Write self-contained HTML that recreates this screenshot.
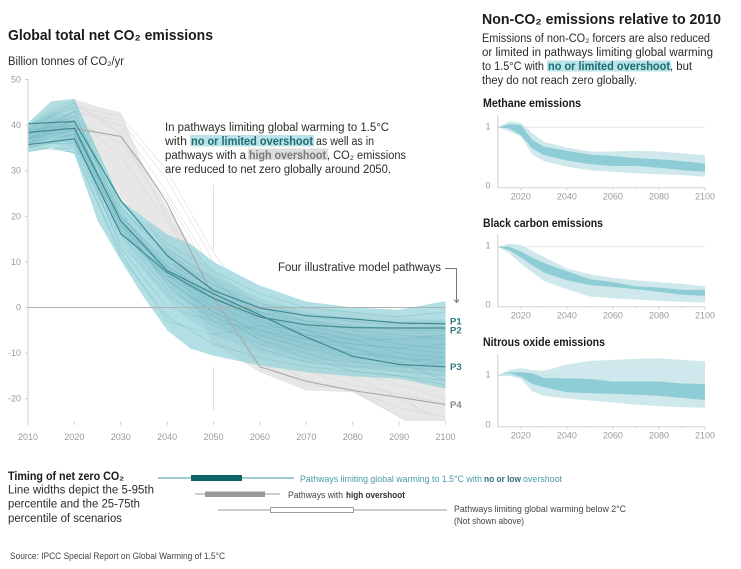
<!DOCTYPE html>
<html lang="en">
<head>
<meta charset="utf-8">
<title>Global total net CO2 emissions</title>
<style>
html,body{margin:0;padding:0;background:#fff;}
svg{display:block;font-family:"Liberation Sans",sans-serif;}
.h{font-weight:700;fill:#1a1a1a;}
.b{fill:#2b2b2b;font-size:11.5px;}
.s{fill:#444;font-size:9.5px;}
.t{fill:#9a9a9a;font-size:9px;}
</style>
</head>
<body>
<svg id="chart" xmlns="http://www.w3.org/2000/svg" width="741" height="569" viewBox="0 0 741 569">
  <defs><clipPath id="mainClip"><rect x="28" y="79" width="418" height="342"/></clipPath></defs>

  <text class="h" x="8" y="40" font-size="15" textLength="205" lengthAdjust="spacingAndGlyphs">Global total net CO₂ emissions</text>
  <text class="b" x="8" y="65" font-size="12" textLength="116" lengthAdjust="spacingAndGlyphs">Billion tonnes of CO₂/yr</text>

  <g id="mainMarks"></g>
  <g id="mainAxes"></g>

  <g>
    <rect x="190" y="135" width="124" height="11.5" fill="#bbe3e7"/>
    <rect x="248" y="148.5" width="80" height="11.5" fill="#dedede"/>
    <text class="b" x="165" y="131" textLength="224" lengthAdjust="spacingAndGlyphs">In pathways limiting global warming to 1.5°C</text>
    <text class="b" x="165" y="145" textLength="22" lengthAdjust="spacingAndGlyphs">with</text>
    <text class="b" x="191" y="145" textLength="122" lengthAdjust="spacingAndGlyphs" font-weight="700" style="fill:#1b6c72">no or limited overshoot</text>
    <text class="b" x="316" y="145" textLength="58" lengthAdjust="spacingAndGlyphs">as well as in</text>
    <text class="b" x="165" y="159" textLength="81" lengthAdjust="spacingAndGlyphs">pathways with a</text>
    <text class="b" x="249" y="159" textLength="77" lengthAdjust="spacingAndGlyphs" font-weight="700" style="fill:#777">high overshoot</text>
    <text class="b" x="327" y="159" textLength="79" lengthAdjust="spacingAndGlyphs">, CO₂ emissions</text>
    <text class="b" x="165" y="173" textLength="226" lengthAdjust="spacingAndGlyphs">are reduced to net zero globally around 2050.</text>
  </g>

  <g>
    <text class="b" x="278" y="271" textLength="163" lengthAdjust="spacingAndGlyphs">Four illustrative model pathways</text>
    <path d="M445 268.5H456.5V302M454 299.5L456.5 302.5L459 299.5" fill="none" stroke="#777" stroke-width="1"/>
  </g>
  <g font-size="9.5" font-weight="700">
    <text x="450" y="324.5" fill="#2c7c83">P1</text>
    <text x="450" y="333.5" fill="#2c7c83">P2</text>
    <text x="450" y="370" fill="#2c7c83">P3</text>
    <text x="450" y="408" fill="#888">P4</text>
  </g>

  <g>
    <text class="h" x="8" y="480" font-size="11.5" textLength="116" lengthAdjust="spacingAndGlyphs">Timing of net zero CO₂</text>
    <text class="b" x="8" y="493.5" textLength="146" lengthAdjust="spacingAndGlyphs">Line widths depict the 5-95th</text>
    <text class="b" x="8" y="507.5" textLength="132" lengthAdjust="spacingAndGlyphs">percentile and the 25-75th</text>
    <text class="b" x="8" y="522" textLength="114" lengthAdjust="spacingAndGlyphs">percentile of scenarios</text>

    <line x1="158" y1="478" x2="294" y2="478" stroke="#3f9aa0" stroke-width="1"/>
    <rect x="191" y="475" width="51" height="6" fill="#0f6468"/>
    <text class="s" x="300" y="482" textLength="182" lengthAdjust="spacingAndGlyphs" style="fill:#4a9ca3">Pathways limiting global warming to 1.5°C with</text>
    <text class="s" x="484" y="482" textLength="37" lengthAdjust="spacingAndGlyphs" font-weight="700" style="fill:#2d7277">no or low</text>
    <text class="s" x="523" y="482" textLength="39" lengthAdjust="spacingAndGlyphs" style="fill:#4a9ca3">overshoot</text>

    <line x1="195" y1="494" x2="280" y2="494" stroke="#999" stroke-width="1"/>
    <rect x="205" y="491.5" width="60" height="5.5" fill="#999"/>
    <text class="s" x="288" y="498" textLength="55" lengthAdjust="spacingAndGlyphs">Pathways with</text>
    <text class="s" x="346" y="498" textLength="59" lengthAdjust="spacingAndGlyphs" font-weight="700" style="fill:#333">high overshoot</text>

    <line x1="218" y1="510" x2="447" y2="510" stroke="#999" stroke-width="1"/>
    <rect x="270.5" y="507.5" width="83" height="5" fill="#fff" stroke="#888" stroke-width="0.8"/>
    <text class="s" x="454" y="512" textLength="172" lengthAdjust="spacingAndGlyphs">Pathways limiting global warming below 2°C</text>
    <text class="s" x="454" y="524" textLength="70" lengthAdjust="spacingAndGlyphs">(Not shown above)</text>
  </g>

  <text class="s" x="10" y="559" textLength="215" lengthAdjust="spacingAndGlyphs" font-size="8.5">Source: IPCC Special Report on Global Warming of 1.5°C</text>

  <g>
    <text class="h" x="482" y="24" font-size="15" textLength="239" lengthAdjust="spacingAndGlyphs">Non-CO₂ emissions relative to 2010</text>
    <rect x="547" y="60.5" width="124" height="11" fill="#bbe3e7"/>
    <text class="b" x="482" y="42" textLength="228" lengthAdjust="spacingAndGlyphs">Emissions of non-CO₂ forcers are also reduced</text>
    <text class="b" x="482" y="56" textLength="231" lengthAdjust="spacingAndGlyphs">or limited in pathways limiting global warming</text>
    <text class="b" x="482" y="70" textLength="62" lengthAdjust="spacingAndGlyphs">to 1.5°C with</text>
    <text class="b" x="548" y="70" textLength="122" lengthAdjust="spacingAndGlyphs" font-weight="700" style="fill:#1b6c72">no or limited overshoot</text>
    <text class="b" x="670" y="70" textLength="22" lengthAdjust="spacingAndGlyphs">, but</text>
    <text class="b" x="482" y="84" textLength="155" lengthAdjust="spacingAndGlyphs">they do not reach zero globally.</text>
  </g>

  <text class="h" x="483" y="107" font-size="11.5" textLength="98" lengthAdjust="spacingAndGlyphs">Methane emissions</text>
  <text class="h" x="483" y="227" font-size="11.5" textLength="120" lengthAdjust="spacingAndGlyphs">Black carbon emissions</text>
  <text class="h" x="483" y="346" font-size="11.5" textLength="122" lengthAdjust="spacingAndGlyphs">Nitrous oxide emissions</text>
  <g id="panels"></g>
</svg>

<script>
// ---- Main chart data ----
const envYears = [2010,2015,2020,2025,2030,2035,2040,2045,2050,2060,2070,2080,2090,2100];
const blueUpper = [40.5,45.2,45.8,34.4,23.5,19.7,16,14,10,4.8,1.3,0,-0.5,1.4];
const blueLower = [34,35,33.7,19,10.3,2.2,-5,-9,-10.6,-12.7,-14.2,-15.1,-15.6,-17.8];
const greyUpper = [40,44,45.7,44,42.8,30.7,22,14,8,1,0,-1,-2,-3];
const greyLower = [36,38,40,33.8,24,19,12,2,-8,-14.2,-18.2,-18.6,-24,-30];
const bandAUpper = [40,43,42,33,22,17,13,10,7,2,-1,-2.5,-3,-2.5];
const bandALower = [35,36,35,24,15,8,2,-3,-6,-10,-12,-13,-14,-15];
const bandBUpper = [39.5,42,41,30,20.5,15,11,7.5,4.5,0,-2.5,-4,-4.5,-4];
const bandBLower = [35.5,37,36,26,17,10.5,5,0,-3.5,-8,-10.5,-12,-13,-14];
const bandCUpper = [39,41,40,29,20,14,9.5,6,3,-1.5,-4,-5.5,-6.5,-6];
const bandCLower = [36,37.5,37,27,17.5,11,6,1.5,-2,-6.5,-9,-10.5,-11.5,-12.5];

const lineYears = [2010,2020,2030,2040,2050,2060,2070,2080,2090,2100];
const blueScenarios = [
  [36,41,22,12,5,0,-3,-5,-6,-7],
  [37,43,19,9,2,-3,-6,-8,-9,-10],
  [35,38,17,6,-1,-5,-8,-10,-11,-12],
  [38,42,23,14,8,3,0,-1,-2,-1],
  [39,40,20,10,4,-1,-4,-6,-8,-9],
  [36,36,14,3,-4,-8,-11,-12,-13,-14],
  [34.5,35,11,-2,-8,-11,-13,-14,-15,-16],
  [37,39,18,8,1,-4,-7,-9,-11,-13],
  [40,44,22,11,5,1,-2,-3,-4,-3],
  [38,41,21,7,0,-6,-9,-11,-12,-11],
  [35,37,16,4,-2,-7,-10,-13,-14,-15],
  [36,38,13,0,-3,-5,-7,-8,-9,-8],
  [39,45,23,13,6,-2,-6,-7,-7,-6],
  [37,40,19,5,-3,-9,-12,-13,-13,-12],
  [35.5,34,12,-3,-6,-4,-5,-7,-10,-11],
  [38,43,20,9,3,-2,-5,-9,-12,-16],
  [36,39,17,7,2,-1,-3,-4,-5,-5],
  [37,41,18,6,-1,-7,-11,-14,-15,-17]
];
const greyScenarios = [
  [39,44,42,30,12,-2,-8,-12,-14,-16],
  [38,43,40,25,8,-6,-12,-15,-20,-25],
  [37,41,36,24,6,-8,-14,-17,-19,-21],
  [40,45,38,20,4,-10,-16,-18,-22,-24],
  [38,42,33,19,3,-12,-17,-18,-24,-30],
  [39,43,41,28,10,-4,-10,-14,-17,-20]
];

const pathwayP1 = [40.3,40.8,23.5,11.4,3.7,-0.1,-1.8,-2.5,-3.4,-3.6];
const pathwayP2 = [35.7,37,16.2,7.7,2,-2.1,-3.8,-4.4,-4.5,-4.5];
const pathwayP3 = [38.4,39.3,19,8.1,3,-1.6,-6.5,-10.7,-12.5,-13];
const pathwayP4Years = [2010,2020,2025,2030,2035,2040,2050,2060,2070,2080,2090,2100];
const pathwayP4 = [38.4,39.3,38.4,37.5,30.7,22.8,2.2,-13,-16.2,-18.2,-19.7,-21.3];

const yTickValues = [50,40,30,20,10,0,-10,-20];
const xTickValues = [2010,2020,2030,2040,2050,2060,2070,2080,2090,2100];

// ---- Small panel data ----
const panelYears = [2010,2015,2020,2025,2030,2040,2050,2060,2070,2080,2090,2100];
const panelTicks = [2020,2040,2060,2080,2100];
const panelMinorTicks = [2030,2050,2070,2090];
const methaneOuterUp = [1,1.1,1.07,0.9,0.76,0.66,0.6,0.6,0.61,0.6,0.57,0.54];
const methaneOuterLow = [1,0.93,0.85,0.55,0.44,0.35,0.29,0.265,0.24,0.22,0.21,0.18];
const methaneInnerUp = [1,1.05,1.04,0.79,0.68,0.61,0.55,0.525,0.49,0.47,0.44,0.4];
const methaneInnerLow = [1,0.98,0.87,0.65,0.54,0.45,0.39,0.36,0.36,0.33,0.29,0.265];
const carbonOuterUp = [1,1.05,1.03,0.93,0.83,0.64,0.54,0.48,0.44,0.41,0.38,0.34];
const carbonOuterLow = [1,0.89,0.72,0.57,0.43,0.29,0.17,0.14,0.12,0.1,0.08,0.07];
const carbonInnerUp = [1,1,0.92,0.82,0.73,0.59,0.46,0.41,0.34,0.32,0.28,0.28];
const carbonInnerLow = [1,0.94,0.82,0.69,0.57,0.44,0.36,0.33,0.29,0.25,0.2,0.18];
const nitrousOuterUp = [1,1.1,1.14,1.1,1.09,1.21,1.28,1.3,1.32,1.33,1.3,1.27];
const nitrousOuterLow = [1,0.99,0.93,0.69,0.6,0.55,0.51,0.47,0.43,0.4,0.38,0.37];
const nitrousInnerUp = [1,1.06,1.06,1.04,0.95,0.94,0.93,0.88,0.88,0.88,0.84,0.83];
const nitrousInnerLow = [1,1.04,0.97,0.83,0.77,0.67,0.65,0.64,0.62,0.6,0.56,0.52];

const NS = 'http://www.w3.org/2000/svg';
const X = y => 28 + (y - 2010) * (417.5 / 90);
const Y = v => 307.5 - v * 4.56;

function mk(parent, tag, attrs, text) {
  const n = document.createElementNS(NS, tag);
  for (const k in attrs) n.setAttribute(k, attrs[k]);
  if (text !== undefined) n.textContent = text;
  parent.appendChild(n);
  return n;
}
function linePath(xs, vs, fx, fy) {
  return xs.map((x, i) => (i ? 'L' : 'M') + fx(x).toFixed(1) + ' ' + fy(vs[i]).toFixed(1)).join('');
}
function bandPath(xs, up, low, fx, fy) {
  const a = xs.map((x, i) => fx(x).toFixed(1) + ' ' + fy(up[i]).toFixed(1));
  const b = xs.map((x, i) => fx(x).toFixed(1) + ' ' + fy(low[i]).toFixed(1)).reverse();
  return 'M' + a.concat(b).join('L') + 'Z';
}

const marks = document.getElementById('mainMarks');
const clipGroup = mk(marks, 'g', {'clip-path': 'url(#mainClip)'});

let el = mk(clipGroup, 'path', {d: bandPath(envYears, greyUpper, greyLower, X, Y), fill: '#e7e7e7'});



greyScenarios.forEach(s => {
  const p = mk(clipGroup, 'path', {d: linePath(lineYears, s, X, Y), fill: 'none', stroke: '#d0d0d0', 'stroke-width': 0.8, 'stroke-opacity': 0.5});
  
  
});

el = mk(clipGroup, 'path', {d: bandPath(envYears, blueUpper, blueLower, X, Y), fill: '#93d3d9', 'fill-opacity': 0.72});



[[bandAUpper, bandALower], [bandBUpper, bandBLower], [bandCUpper, bandCLower]].forEach(b => {
  const p = mk(clipGroup, 'path', {d: bandPath(envYears, b[0], b[1], X, Y), fill: '#5fb0ba', 'fill-opacity': 0.12});
  
  
});

blueScenarios.forEach(s => {
  const p = mk(clipGroup, 'path', {d: linePath(lineYears, s, X, Y), fill: 'none', stroke: '#5eabb3', 'stroke-width': 0.7, 'stroke-opacity': 0.35});
  
  
});

el = mk(marks, 'line', {x1: 28, x2: 445.5, y1: Y(0), y2: Y(0), stroke: '#b0b0b0', 'stroke-width': 1});



el = mk(marks, 'path', {d: linePath(pathwayP4Years, pathwayP4, X, Y), fill: 'none', stroke: '#a8a8a8', 'stroke-width': 1.1});



el = mk(marks, 'path', {d: linePath(lineYears, pathwayP1, X, Y), fill: 'none', stroke: '#3f8a91', 'stroke-width': 1.2});



el = mk(marks, 'path', {d: linePath(lineYears, pathwayP2, X, Y), fill: 'none', stroke: '#3f8a91', 'stroke-width': 1.2});



el = mk(marks, 'path', {d: linePath(lineYears, pathwayP3, X, Y), fill: 'none', stroke: '#3f8a91', 'stroke-width': 1.2});



const axes = document.getElementById('mainAxes');
el = mk(axes, 'line', {x1: 28, x2: 28, y1: 79, y2: 423, stroke: '#cfcfcf', 'stroke-width': 1});



el = mk(axes, 'line', {x1: X(2050), x2: X(2050), y1: 185, y2: 250, stroke: '#dcdcdc', 'stroke-width': 1});



el = mk(axes, 'line', {x1: X(2050), x2: X(2050), y1: 367, y2: 410, stroke: '#dcdcdc', 'stroke-width': 1});



yTickValues.forEach(v => {
  const t = mk(axes, 'line', {x1: 25, x2: 28, y1: Y(v), y2: Y(v), stroke: '#cfcfcf', 'stroke-width': 1});
  
  
  const l = mk(axes, 'text', {x: 21, y: Y(v) + 3, 'text-anchor': 'end', class: 't'}, String(v));
  
  
});
xTickValues.forEach(v => {
  const t = mk(axes, 'line', {x1: X(v), x2: X(v), y1: 421.5, y2: 425, stroke: '#cfcfcf', 'stroke-width': 1});
  
  
  const l = mk(axes, 'text', {x: X(v), y: 440, 'text-anchor': 'middle', class: 't'}, String(v));
  
  
});

// ---- Small panels ----
const PX = y => 497.8 + (y - 2010) * (207.2 / 90);
const panelsRoot = document.getElementById('panels');
const panelDefs = [
  {one: 127.3, zero: 187.7, top: 115, ou: methaneOuterUp, ol: methaneOuterLow, iu: methaneInnerUp, il: methaneInnerLow, ref: '#e6e6e6'},
  {one: 246.7, zero: 306.7, top: 234, ou: carbonOuterUp, ol: carbonOuterLow, iu: carbonInnerUp, il: carbonInnerLow, ref: '#e6e6e6'},
  {one: 375.3, zero: 426.7, top: 354, ou: nitrousOuterUp, ol: nitrousOuterLow, iu: nitrousInnerUp, il: nitrousInnerLow, ref: '#b9cfd2'}
];
panelDefs.forEach(d => {
  const PY = v => d.zero - v * (d.zero - d.one);
  let n = mk(panelsRoot, 'line', {x1: PX(2010), x2: PX(2100), y1: d.one, y2: d.one, stroke: d.ref, 'stroke-width': 1});
  
  

  n = mk(panelsRoot, 'path', {d: bandPath(panelYears, d.ou, d.ol, PX, PY), fill: '#cbe6ea', 'fill-opacity': 0.92});
  
  

  n = mk(panelsRoot, 'path', {d: bandPath(panelYears, d.iu, d.il, PX, PY), fill: '#8ecdd5'});
  
  

  n = mk(panelsRoot, 'line', {x1: PX(2010), x2: PX(2010), y1: d.top, y2: d.zero, stroke: '#cfcfcf', 'stroke-width': 1});
  
  

  n = mk(panelsRoot, 'line', {x1: PX(2010), x2: PX(2100), y1: d.zero, y2: d.zero, stroke: '#d4d4d4', 'stroke-width': 1});
  
  

  n = mk(panelsRoot, 'text', {x: 488, y: d.one + 2, 'text-anchor': 'middle', class: 't', 'font-size': 9.5}, '1');
  
  

  n = mk(panelsRoot, 'text', {x: 488, y: d.zero + 1, 'text-anchor': 'middle', class: 't', 'font-size': 9.5}, '0');
  
  

  panelTicks.forEach(y => {
    const t = mk(panelsRoot, 'line', {x1: PX(y), x2: PX(y), y1: d.zero, y2: d.zero + 2.5, stroke: '#cfcfcf', 'stroke-width': 1});
    
    
    const l = mk(panelsRoot, 'text', {x: PX(y), y: d.zero + 12, 'text-anchor': 'middle', class: 't'}, String(y));
    
    
  });
  panelMinorTicks.forEach(y => {
    const t = mk(panelsRoot, 'line', {x1: PX(y), x2: PX(y), y1: d.zero, y2: d.zero + 1.5, stroke: '#cfcfcf', 'stroke-width': 1});
    
    
  });
});
</script>
</body>
</html>
